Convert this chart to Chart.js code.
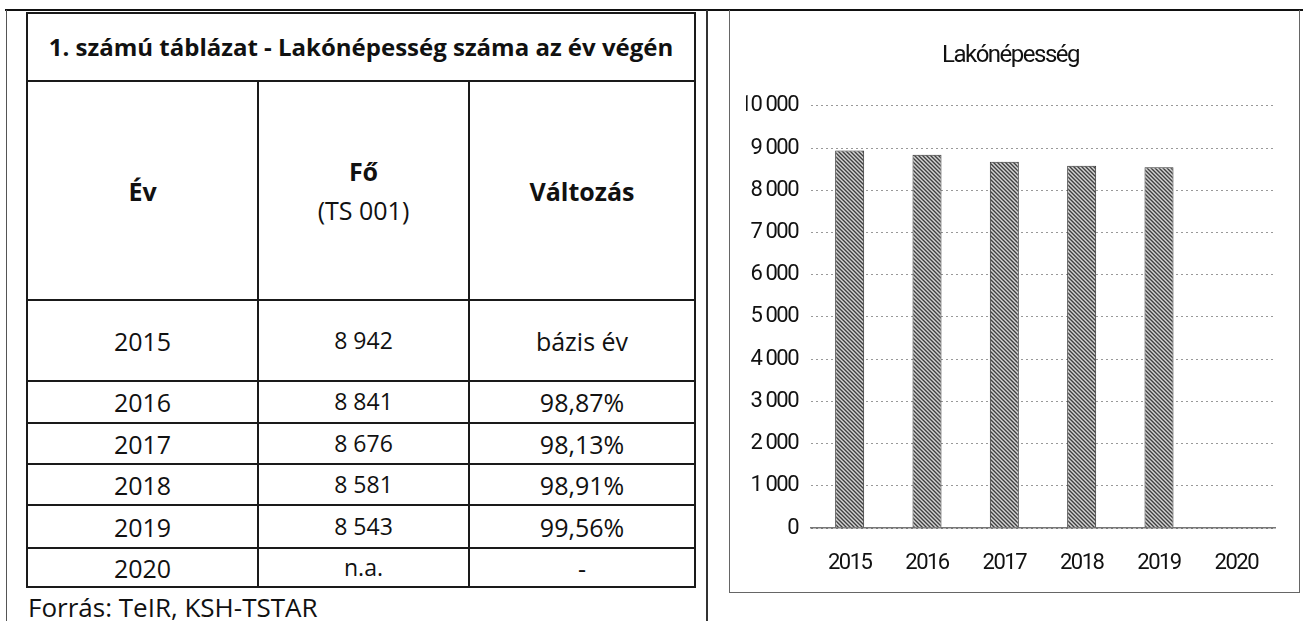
<!DOCTYPE html>
<html>
<head>
<meta charset="utf-8">
<script src="https://cdn.jsdelivr.net/npm/chart.js@4"></script>
<style>
  html, body { margin: 0; padding: 0; background: #fff; }
  body { width: 1304px; height: 621px; position: relative; overflow: hidden; font-family: "Open Sans", sans-serif; color: #111; }
  .line { position: absolute; background: #222; }
  #tbl { position: absolute; left: 26px; top: 12px; width: 668px; border-collapse: collapse; table-layout: fixed; }
  #tbl td { border: 2px solid #1a1a1a; text-align: center; vertical-align: middle; padding: 0; font-size: 25px; line-height: 1.2; }
  #tbl td.title { font-weight: bold; font-size: 24px; }
  #tbl td.head { font-weight: bold; }
  #tbl .sub { font-weight: normal; display: block; margin-top: 4px; }
  #src { position: absolute; left: 28px; top: 589px; font-size: 26px; }
  #frame { position: absolute; left: 729px; top: 10px; width: 569px; height: 582px; border: 1px solid #666; border-top: none; box-sizing: content-box; }
  #myChart { position: absolute; left: 731px; top: 12px; }
</style>
</head>
<body>
<div class="line" style="left:5px; top:9px; width:1298px; height:2px; background:#111;"></div>
<div class="line" style="left:6px; top:10px; width:1px; height:611px; background:#555;"></div>
<div class="line" style="left:706px; top:10px; width:2px; height:611px; background:#333;"></div>

<table id="tbl">
  <colgroup><col style="width:231px"><col style="width:211px"><col style="width:226px"></colgroup>
  <tbody id="tbody"></tbody>
</table>
<div id="src">Forrás: TeIR, KSH-TSTAR</div>

<div id="frame"></div>
<canvas id="myChart" width="566" height="580"></canvas>

<script>
// data
var years = ['2015', '2016', '2017', '2018', '2019', '2020'];
var population = [8942, 8841, 8676, 8581, 8543, null];
var popText = ['8 942', '8 841', '8 676', '8 581', '8 543', 'n.a.'];
var changeText = ['bázis év', '98,87%', '98,13%', '98,91%', '99,56%', '-'];
var yTicks = [0, 1000, 2000, 3000, 4000, 5000, 6000, 7000, 8000, 9000, 10000];

// table
var rowHeights = [81, 42, 41, 41, 43, 39];
var tbody = document.getElementById('tbody');
var html = '<tr><td class="title" colspan="3" style="height:66px">1. számú táblázat - Lakónépesség száma az év végén</td></tr>';
html += '<tr><td class="head" style="height:217px">Év</td><td class="head" style="line-height:1.4">Fő<span class="sub">(TS 001)</span></td><td class="head">Változás</td></tr>';
years.forEach(function (y, i) {
  html += '<tr><td style="height:' + (rowHeights[i] - 2) + 'px">' + y + '</td>' +
    '<td style="font-size:23px">' + popText[i] + '</td><td>' + changeText[i] + '</td></tr>';
});
tbody.innerHTML = html;

// grey dithered fill like the printed bars
function barPattern() {
  var c = document.createElement('canvas');
  c.width = 4; c.height = 4;
  var g = c.getContext('2d');
  g.fillStyle = '#8c8c8c';
  g.fillRect(0, 0, 4, 4);
  g.fillStyle = '#404040';
  g.fillRect(0, 0, 1, 1); g.fillRect(1, 1, 1, 1); g.fillRect(2, 2, 1, 1); g.fillRect(3, 3, 1, 1);
  g.fillStyle = '#d4d4d4';
  g.fillRect(2, 0, 1, 1); g.fillRect(3, 1, 1, 1); g.fillRect(0, 2, 1, 1); g.fillRect(1, 3, 1, 1);
  return g.createPattern(c, 'repeat');
}

function fmt(v) {
  return String(v).replace(/\B(?=(\d{3})+(?!\d))/g, ' ');
}

// squeeze the text a little, the original uses a condensed face
var tightText = {
  id: 'tightText',
  beforeUpdate: function (chart) { chart.ctx.letterSpacing = '-1.5px'; },
  beforeDraw: function (chart) { chart.ctx.letterSpacing = '-1.5px'; }
};

var ctx = document.getElementById('myChart');
var myChart = new Chart(ctx, {
  type: 'bar',
  data: {
    labels: years,
    datasets: [{
      label: 'Lakónépesség',
      data: population,
      backgroundColor: barPattern(),
      borderColor: '#333',
      borderWidth: 1,
      barPercentage: 0.75,
      categoryPercentage: 0.5
    }]
  },
  plugins: [tightText],
  options: {
    responsive: false,
    maintainAspectRatio: false,
    animation: false,
    layout: { padding: { left: 15, right: 22, top: 0, bottom: 16 } },
    plugins: {
      legend: { display: false },
      tooltip: { enabled: false },
      title: {
        display: true,
        text: 'Lakónépesség',
        color: '#111',
        font: { family: 'Roboto', size: 24, weight: 'normal' },
        padding: { top: 30, bottom: 35 }
      }
    },
    scales: {
      x: {
        afterFit: function (axis) { axis.height = 48; },
        grid: { display: false, drawTicks: false },
        border: { display: true, color: '#777', width: 1.5 },
        ticks: { color: '#111', padding: 22, font: { family: 'Roboto', size: 22 } }
      },
      y: {
        min: 0,
        max: 10000,
        afterBuildTicks: function (axis) {
          axis.ticks = yTicks.map(function (v) { return { value: v }; });
        },
        afterFit: function (axis) { axis.width = 65; },
        grid: {
          drawTicks: false,
          color: function (c) { return c.tick && c.tick.value === 0 ? '#777' : '#999'; },
          lineWidth: 1
        },
        border: { display: false, dash: [2, 3] },
        ticks: {
          color: '#111',
          padding: 13,
          font: { family: 'Roboto', size: 22 },
          callback: function (v) { return fmt(v); }
        }
      }
    }
  }
});
</script>
</body>
</html>
